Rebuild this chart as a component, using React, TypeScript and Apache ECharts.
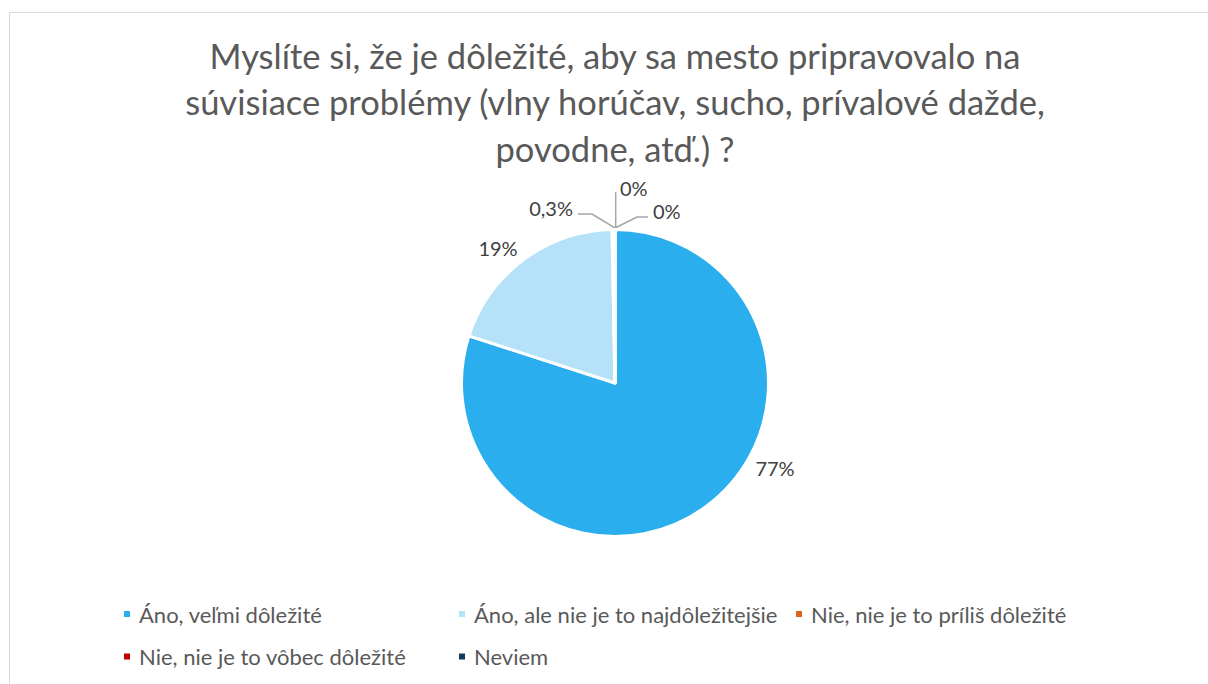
import React, { useEffect, useRef } from "react";
import * as echarts from "echarts";

const TITLE_LINES = [
  "Myslíte si, že je dôležité, aby sa mesto pripravovalo na",
  "súvisiace problémy (vlny horúčav, sucho, prívalové dažde,",
  "povodne, atď.) ?",
];
const categories = [
  "Áno, veľmi dôležité",
  "Áno, ale nie je to najdôležitejšie",
  "Nie, nie je to príliš dôležité",
  "Nie, nie je to vôbec dôležité",
  "Neviem",
];
const values = [77, 19, 0.3, 0, 0];
const colors = ["#2BAEEE", "#B5E2F8", "#D9661C", "#C00000", "#0F3A57"];

// layout constants (pixels)
const CX = 615;
const CY = 383;
const R = 153.5;
// label anchor offsets from the pie centre and leader line points
const LABEL_LAYOUT: { dx: number; dy: number; align: string; line?: number[][] }[] = [
  { dx: 160, dy: 85, align: "center" },
  { dx: -117, dy: -135, align: "center" },
  { dx: -42, dy: -175, align: "right", line: [[-37, -169], [-23, -169], [0, -155]] },
  { dx: 5, dy: -195, align: "left", line: [[0.7, -191], [0.7, -155]] },
  { dx: 38, dy: -172, align: "left", line: [[33, -166], [22, -166], [0, -155]] },
];
const LEGEND_POS = [
  { left: 122, top: 602 },
  { left: 457, top: 602 },
  { left: 794, top: 602 },
  { left: 122, top: 644.5 },
  { left: 457, top: 644.5 },
];

const FONT = "Lato, 'Open Sans', sans-serif";

export default function App() {
  const ref = useRef<HTMLDivElement>(null);
  useEffect(() => {
    if (!ref.current) return;
    const chart = echarts.init(ref.current, null, { renderer: "svg" });
    const data = categories.map((name, i) => ({
      name,
      value: values[i],
      itemStyle: { color: colors[i] },
      labelLine: { show: !!LABEL_LAYOUT[i].line },
    }));
    chart.setOption({
      animation: false,
      backgroundColor: "#FFFFFF",
      title: {
        text: TITLE_LINES.join("\n"),
        left: CX,
        top: 32.5,
        textAlign: "center",
        padding: 0,
        textStyle: {
          fontFamily: FONT,
          fontSize: 34.5,
          fontWeight: "normal",
          color: "#595959",
          lineHeight: 46.2,
        },
      },
      graphic: [
        {
          type: "rect",
          shape: { x: 9.5, y: 12.5, width: 1400, height: 900 },
          style: { fill: "none", stroke: "#D9D9D9", lineWidth: 1 },
          silent: true,
          z: -10,
        },
      ],
      legend: categories.map((name, i) => ({
        data: [name],
        left: LEGEND_POS[i].left,
        top: LEGEND_POS[i].top,
        padding: 0,
        icon: "rect",
        itemWidth: 8,
        itemHeight: 8,
        selectedMode: false,
        textStyle: {
          fontFamily: FONT,
          fontSize: 22,
          color: "#595959",
          lineHeight: 24,
          padding: [0, 0, 0, 3],
        },
      })),
      series: [
        {
          type: "pie",
          center: [CX, CY],
          radius: R,
          startAngle: 90,
          clockwise: true,
          avoidLabelOverlap: false,
          emphasis: { disabled: true },
          itemStyle: { borderColor: "#FFFFFF", borderWidth: 3 },
          label: {
            show: true,
            position: "outside",
            fontFamily: FONT,
            fontSize: 20,
            color: "#404040",
            formatter: (p: any) => String(p.value).replace(".", ",") + "%",
          },
          labelLine: {
            show: true,
            lineStyle: { color: "#A6A6A6", width: 1.5 },
          },
          labelLayout: (p: any) => {
            const L = LABEL_LAYOUT[p.dataIndex];
            const out: any = {
              x: CX + L.dx,
              y: CY + L.dy,
              align: L.align,
              verticalAlign: "middle",
            };
            if (L.line) {
              out.labelLinePoints = L.line.map((pt) => [CX + pt[0], CY + pt[1]]);
            }
            return out;
          },
          data,
        },
      ],
    });
    return () => chart.dispose();
  }, []);
  return (
    <div
      ref={ref}
      style={{ position: "absolute", left: 0, top: 0, width: 1208, height: 684 }}
    />
  );
}
